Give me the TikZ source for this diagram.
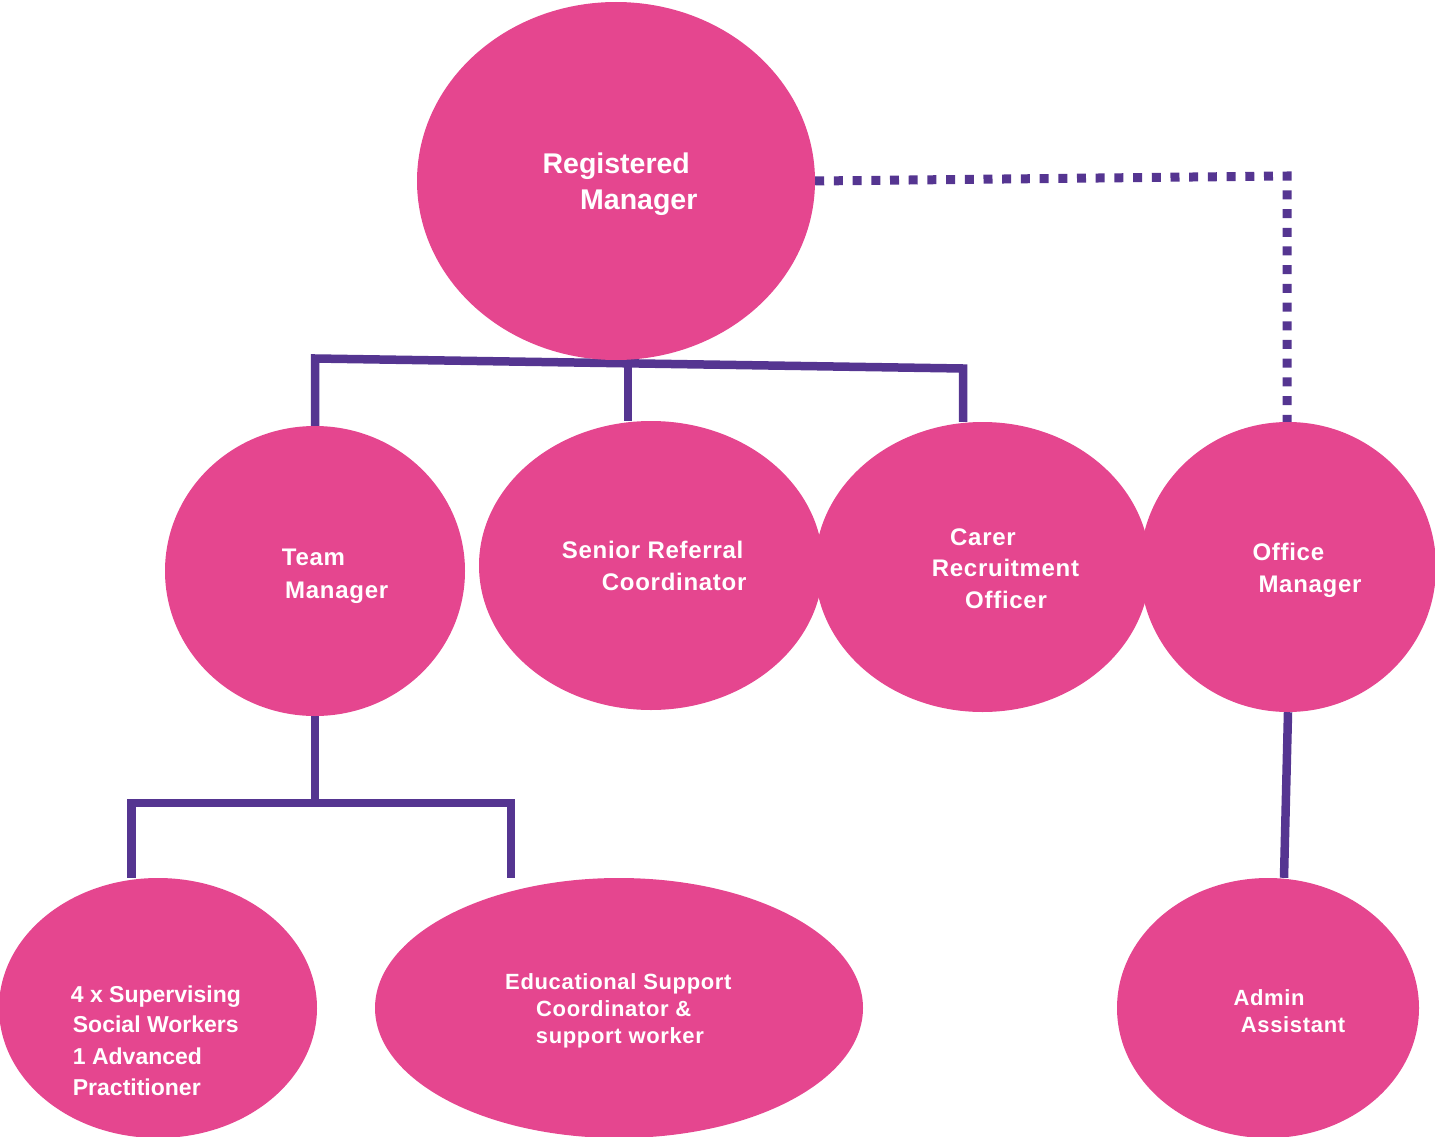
\documentclass[tikz,border=0pt]{standalone}
\usepackage{fontspec}
\setmainfont{Liberation Sans}
\newfontfamily\spfont[LetterSpace=3]{Liberation Sans}
\usetikzlibrary{shapes.geometric,backgrounds}
\definecolor{bubblepink}{RGB}{229,70,143}
\definecolor{linepurple}{RGB}{85,53,145}
\begin{document}
\begin{tikzpicture}[x=1pt,y=-1pt,
  bubble/.style={ellipse,fill=bubblepink,draw=none,inner sep=0pt},
  conn/.style={draw=linepurple,line width=8.5pt},
  dotconn/.style={draw=linepurple,line width=9pt,dash pattern=on 9pt off 9.7pt},
  lab/.style={anchor=base west,text=white,inner sep=0pt,font=\spfont\bfseries\fontsize{24}{28}\selectfont},
  labbig/.style={lab,font=\bfseries\fontsize{28.5}{32}\selectfont},
  labsm/.style={lab,font=\spfont\bfseries\fontsize{22}{26}\selectfont},
  labmd/.style={lab,font=\bfseries\fontsize{23}{27}\selectfont}]
\useasboundingbox (0,0) rectangle (1435,1137);

% bubbles
\node[bubble,minimum width=398pt,minimum height=358pt] (RM) at (616,181) {};
\node[bubble,minimum width=300pt,minimum height=290pt] (TM) at (315,571) {};
\node[bubble,minimum width=344pt,minimum height=289pt] (SR) at (651,565.5) {};
\node[bubble,minimum width=335pt,minimum height=290pt] (CR) at (982.5,567) {};
\node[bubble,minimum width=296pt,minimum height=290pt] (OM) at (1288,567) {};
\node[bubble,minimum width=318pt,minimum height=260pt] (SW) at (158,1008) {};
\node[bubble,minimum width=488pt,minimum height=260pt] (ES) at (619,1008) {};
\node[bubble,minimum width=302pt,minimum height=260pt] (AA) at (1268,1008) {};

% junction points
\coordinate (tl) at (316,358.5);
\coordinate (tm) at (628,363);
\coordinate (tr) at (963,368.5);
\coordinate (dc) at (1287,176);
\coordinate (lb) at (131.5,803);
\coordinate (rb) at (511,803);

\begin{pgfonlayer}{background}
\draw[conn] (TM.north) -- (TM.north |- tl) -- (tr) -- (tr |- CR.north);
\draw[conn] (tm) -- (tm |- SR.north);
\draw[dotconn] (RM.east) -- (dc) -- (dc |- OM.north);
\draw[conn] (TM.south) -- (TM.south |- lb);
\draw[conn] (lb |- SW.north) -- (lb) -- (rb) -- (rb |- ES.north);
\draw[conn] (OM.south) -- ([xshift=16pt]AA.north);
\end{pgfonlayer}

% labels
\node[labbig] (rm1) at (542.4,173.3) {Registered};
\node[labbig] (rm2) at (580,209.3) {Manager};
\node[lab] (tm1) at (281.7,565.7) {Team};
\node[lab] (tm2) at (285,598) {Manager};
\node[lab] (sr1) at (561.7,558.3) {Senior Referral};
\node[lab] (sr2) at (601.7,590.7) {Coordinator};
\node[lab] (cr1) at (950,545) {Carer};
\node[lab] (cr2) at (931.7,576.7) {Recruitment};
\node[lab] (cr3) at (965,608.3) {Officer};
\node[lab] (om1) at (1252.3,560.7) {Office};
\node[lab] (om2) at (1258.3,592.3) {Manager};
\node[labmd] (sw1) at (70.7,1002.7) {4 x Supervising};
\node[labmd] (sw2) at (72.7,1032.7) {Social Workers};
\node[labmd] (sw3) at (72.7,1064) {1 Advanced};
\node[labmd] (sw4) at (72.7,1095) {Practitioner};
\node[labsm] (es1) at (505,989.3) {Educational Support};
\node[labsm] (es2) at (536,1016) {Coordinator \&};
\node[labsm] (es3) at (535.7,1043) {support worker};
\node[labsm] (aa1) at (1233.3,1005) {Admin};
\node[labsm] (aa2) at (1240.7,1032.3) {Assistant};
\end{tikzpicture}
\end{document}
